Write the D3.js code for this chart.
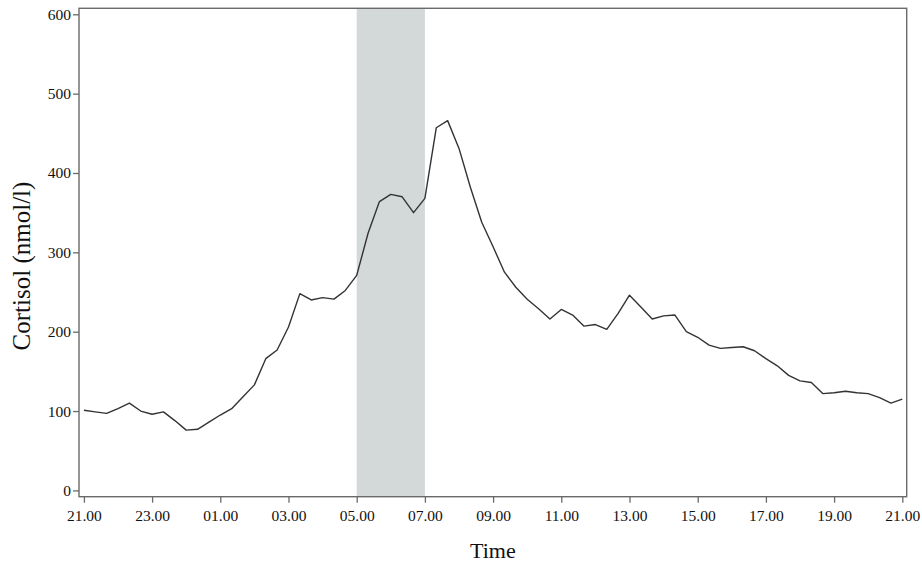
<!DOCTYPE html>
<html>
<head>
<meta charset="utf-8">
<script src="https://cdn.jsdelivr.net/npm/d3@7"></script>
<style>
  html, body { margin: 0; padding: 0; background: #fff; }
  svg { display: block; }
</style>
</head>
<body>
<svg id="chart" width="922" height="567"></svg>
<script>
// Hours elapsed since 21.00, sampled every 20 minutes
const sampleHours = d3.range(0, 73).map(i => i / 3);
const cortisol = [
  101, 99, 97, 103, 110, 100, 96, 99, 88, 76,
  77, 86, 95, 103, 118, 133, 166, 177, 206, 248,
  240, 243, 241, 252, 271, 324, 364, 373, 370, 350,
  368, 457, 466, 431, 382, 338, 307, 275, 256, 241,
  229, 216, 228, 221, 207, 209, 203, 223, 246, 231,
  216, 220, 221, 200, 193, 183, 179, 180, 181, 176,
  166, 157, 145, 138, 136, 122, 123, 125, 123, 122,
  117, 110, 115
];
const xTickHours = [0, 2, 4, 6, 8, 10, 12, 14, 16, 18, 20, 22, 24];
const xTickLabels = ["21.00", "23.00", "01.00", "03.00", "05.00", "07.00", "09.00",
                     "11.00", "13.00", "15.00", "17.00", "19.00", "21.00"];
const yTicks = [0, 100, 200, 300, 400, 500, 600];
const shadeHours = [8, 10]; // 05.00 to 07.00

const svg = d3.select("#chart");
const frame = { left: 79, right: 906.7, top: 8.3, bottom: 496.7 };
const serif = "'Liberation Serif', 'Times New Roman', serif";

const x = d3.scaleLinear().domain([0, 24]).range([83.9, 902.3]);
const y = d3.scaleLinear().domain([0, 600]).range([490.4, 14.3]);

// shaded band
svg.append("rect")
  .attr("x", x(shadeHours[0]))
  .attr("y", frame.top)
  .attr("width", x(shadeHours[1]) - x(shadeHours[0]))
  .attr("height", frame.bottom - frame.top)
  .attr("fill", "#d3d8d8");

// frame
svg.append("rect")
  .attr("x", frame.left).attr("y", frame.top)
  .attr("width", frame.right - frame.left)
  .attr("height", frame.bottom - frame.top)
  .attr("fill", "none")
  .attr("stroke", "#6a6a6a")
  .attr("stroke-width", 1.4);

// line
const line = d3.line()
  .x((d, i) => x(sampleHours[i]))
  .y(d => y(d));
svg.append("path")
  .datum(cortisol)
  .attr("d", line)
  .attr("fill", "none")
  .attr("stroke", "#333")
  .attr("stroke-width", 1.4)
  .attr("stroke-linejoin", "round");

// y axis
const yAxis = d3.axisLeft(y).tickValues(yTicks).tickSize(6).tickPadding(2).tickFormat(d3.format("d"));
const gy = svg.append("g").attr("transform", `translate(${frame.left},0)`).call(yAxis);
gy.select(".domain").remove();
gy.selectAll(".tick line").attr("stroke", "#6a6a6a").attr("stroke-width", 1.3);
gy.selectAll(".tick text")
  .attr("font-family", serif)
  .attr("font-size", 15.5)
  .attr("fill", "#111");

// x axis
const xAxis = d3.axisBottom(x).tickValues(xTickHours).tickSize(6).tickPadding(7)
  .tickFormat((d, i) => xTickLabels[i]);
const gx = svg.append("g").attr("transform", `translate(0,${frame.bottom})`).call(xAxis);
gx.select(".domain").remove();
gx.selectAll(".tick line").attr("stroke", "#6a6a6a").attr("stroke-width", 1.3);
gx.selectAll(".tick text")
  .attr("font-family", serif)
  .attr("font-size", 15.5)
  .attr("fill", "#111");

// axis titles
svg.append("text")
  .attr("x", (frame.left + frame.right) / 2)
  .attr("y", 558)
  .attr("text-anchor", "middle")
  .attr("font-family", serif)
  .attr("font-size", 22)
  .attr("fill", "#111")
  .text("Time");

svg.append("text")
  .attr("transform", `translate(30,266) rotate(-90)`)
  .attr("text-anchor", "middle")
  .attr("font-family", serif)
  .attr("font-size", 25)
  .attr("fill", "#111")
  .text("Cortisol (nmol/l)");
</script>
</body>
</html>
